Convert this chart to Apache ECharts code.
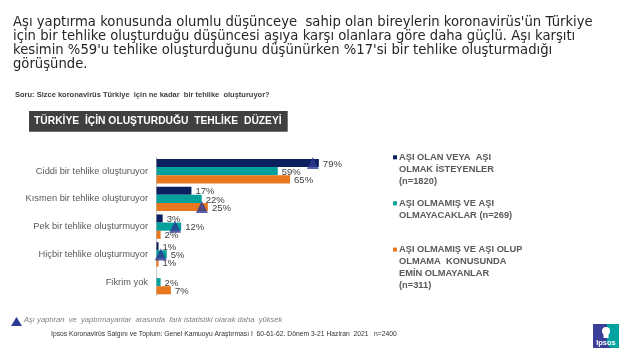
<!DOCTYPE html>
<html>
<head>
<meta charset="utf-8">
<script src="https://cdn.jsdelivr.net/npm/echarts@6/dist/echarts.min.js"></script>
<style>html,body{margin:0;padding:0;background:#fff;}#c{width:640px;height:360px;}</style>
</head>
<body>
<div id="c"></div>
<script>
const categories = ['Ciddi bir tehlike oluşturuyor', 'Kısmen bir tehlike oluşturuyor', 'Pek bir tehlike oluşturmuyor', 'Hiçbir tehlike oluşturmuyor', 'Fikrim yok'];
const seriesNames = ['AŞI OLAN VEYA AŞI OLMAK İSTEYENLER (n=1820)', 'AŞI OLMAMIŞ VE AŞI OLMAYACAKLAR (n=269)', 'AŞI OLMAMIŞ VE AŞI OLUP OLMAMA KONUSUNDA EMİN OLMAYANLAR (n=311)'];
const legendLines = [
  ['AŞI OLAN VEYA  AŞI', 'OLMAK İSTEYENLER', '(n=1820)'],
  ['AŞI OLMAMIŞ VE AŞI', 'OLMAYACAKLAR (n=269)'],
  ['AŞI OLMAMIŞ VE AŞI OLUP', 'OLMAMA  KONUSUNDA', 'EMİN OLMAYANLAR', '(n=311)']
];
const vaccinated = [79, 17, 3, 1, '-'];
const refusers = [59, 22, 12, 5, 2];
const undecided = [65, 25, 2, 1, 7];
// significance markers: [seriesIndex, categoryIndex]
const significant = [[0, 0], [2, 1], [1, 2], [1, 3]];
const titleLines = [
  "Aşı yaptırma konusunda olumlu düşünceye  sahip olan bireylerin koronavirüs'ün Türkiye",
  "için bir tehlike oluşturduğu düşüncesi aşıya karşı olanlara göre daha güçlü. Aşı karşıtı",
  "kesimin %59'u tehlike oluşturduğunu düşünürken %17'si bir tehlike oluşturmadığı",
  "görüşünde."
];
const questionText = 'Soru: Sizce koronavirüs Türkiye  için ne kadar  bir tehlike  oluşturuyor?';
const boxTitle = 'TÜRKİYE  İÇİN OLUŞTURDUĞU  TEHLİKE  DÜZEYİ';
const footnote = 'Aşı yaptıran  ve  yaptırmayanlar  arasında  fark istatistiki olarak daha  yüksek';
const sourceText = 'Ipsos Koronavirüs Salgını ve Toplum: Genel Kamuoyu Araştırması I  60-61-62. Dönem 3-21 Haziran  2021   n=2400';

const colors = ['#0c1f5e', '#00a09b', '#e8781f'];
const markColor = '#2e3b94';
const FONT = '"Liberation Sans", Arial, sans-serif';
const seriesData = [vaccinated, refusers, undecided];

const chart = echarts.init(document.getElementById('c'), null, {renderer: 'canvas'});

const barSeries = seriesData.map((d, i) => ({
  name: seriesNames[i],
  type: 'bar',
  data: d,
  barGap: '0%',
  barCategoryGap: '12%',
  itemStyle: {color: colors[i]},
  label: {
    show: true, position: 'right', distance: 4, offset: [0, 1],
    formatter: '{c}%', color: '#404040', fontSize: 9.5, fontFamily: FONT
  },
  z: 2
}));

const markerData = significant.map(([s, c]) => ({
  value: [seriesData[s][c], c],
  symbolOffset: [-6, (s - 1) * 8.1]
}));

const legends = legendLines.map((lines, i) => ({
  data: [seriesNames[i]],
  left: 388,
  top: [151.3, 197.3, 243.6][i],
  padding: 0,
  icon: 'none',
  itemWidth: 0,
  itemHeight: 4,
  selectedMode: false,
  formatter: () => lines.map((l, k) => (k === 0 ? '{sq' + i + '|}{g|}' : '{ind|}') + '{t|' + l + '}').join('\n'),
  textStyle: {
    rich: {
      ['sq' + i]: {width: 4, height: 4, backgroundColor: colors[i]},
      g: {width: 2},
      ind: {width: 6},
      t: {fontSize: 9.3, fontWeight: 'bold', color: '#595959', fontFamily: FONT, lineHeight: 10.8}
    }
  }
}));

chart.setOption({
  animation: false,
  textStyle: {fontFamily: FONT},
  title: [
    {
      text: titleLines.join('\n'), left: 13, top: 15, padding: 0,
      textStyle: {fontSize: 13.2, fontWeight: 'normal', color: '#262626', lineHeight: 14.2, fontFamily: '"DejaVu Sans", sans-serif'}
    },
    {
      text: questionText, left: 15, top: 91, padding: 0,
      textStyle: {fontSize: 7.5, fontWeight: 'bold', color: '#404040', fontFamily: FONT}
    },
    {
      text: boxTitle, left: 29, top: 111, padding: [4, 6, 4, 5],
      backgroundColor: '#404040',
      textStyle: {fontSize: 10.3, fontWeight: 'bold', color: '#ffffff', lineHeight: 12.7, fontFamily: FONT}
    }
  ],
  legend: legends,
  grid: {left: 156.5, top: 157.3, width: 205.5, height: 138.7, containLabel: false},
  xAxis: {type: 'value', min: 0, max: 100, show: false},
  yAxis: {
    type: 'category', data: categories, inverse: true,
    axisLine: {lineStyle: {color: '#c8c8c8', width: 1}},
    axisTick: {length: 4, lineStyle: {color: '#c8c8c8'}},
    axisLabel: {color: '#595959', fontSize: 9.3, margin: 8.5, fontFamily: FONT}
  },
  series: barSeries.concat([{
    type: 'scatter',
    name: 'significant',
    data: markerData,
    symbol: 'triangle',
    symbolSize: [12, 12],
    itemStyle: {color: markColor},
    z: 3,
    silent: true
  }]),
  graphic: [
    {type: 'polygon', shape: {points: [[11, 326], [16.5, 317], [22, 326]]}, style: {fill: markColor}},
    {type: 'text', left: 24, top: 315.5, style: {text: footnote, fontSize: 7.6, fontStyle: 'italic', fill: '#808080', fontFamily: FONT}},
    {type: 'text', left: 51, top: 330.5, style: {text: sourceText, fontSize: 6.75, fill: '#333333', fontFamily: FONT}},
    {type: 'group', left: 593, top: 324, children: [
      {type: 'rect', shape: {x: 0, y: 0, width: 26, height: 24}, style: {fill: '#3b3f98'}},
      {type: 'rect', shape: {x: 14, y: 0, width: 12, height: 24, r: [0, 0, 0, 6]}, style: {fill: '#00a3a0'}},
      {type: 'circle', shape: {cx: 13, cy: 7, r: 4}, style: {fill: '#ffffff'}},
      {type: 'rect', shape: {x: 10.5, y: 9, width: 5, height: 5}, style: {fill: '#ffffff'}},
      {type: 'text', style: {text: 'Ipsos', x: 13, y: 19, align: 'center', verticalAlign: 'middle', fontSize: 7.5, fontWeight: 'bold', fill: '#ffffff', fontFamily: FONT}}
    ]}
  ]
});
</script>
</body>
</html>
